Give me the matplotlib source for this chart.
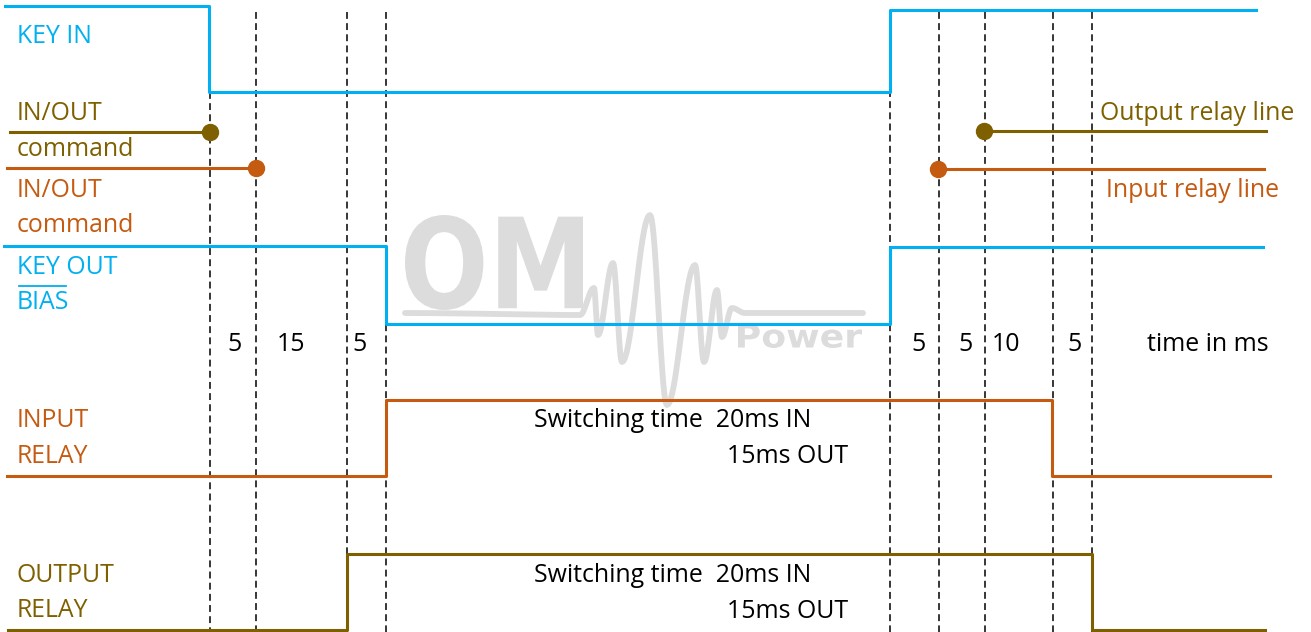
import numpy as np
import matplotlib
matplotlib.use("Agg")
import matplotlib.pyplot as plt
from matplotlib.font_manager import FontProperties
from matplotlib.textpath import TextPath
from matplotlib.patches import PathPatch
from matplotlib.transforms import Affine2D

# ---------------- data (diagram coordinates, x = time position, y = lane level) -------------
# dashed timing markers
event_x = [210, 256, 347, 386, 890, 939, 985, 1053, 1092]
event_top = [92, 12, 12, 12, 12, 12, 12, 12, 12]

# interval labels (ms) between markers
interval_labels = ["5", "15", "5", "5", "5", "10", "5"]
interval_x = [228, 278, 353, 912, 959, 993, 1068]

# step signals: transition x-positions and level y after each transition
key_in_x = [5, 209, 890, 1256]
key_in_y = [6, 92, 10, 10]

key_out_x = [4, 386, 890, 1263]
key_out_y = [246, 324, 247, 247]

input_relay_x = [7, 386, 1052, 1270]
input_relay_y = [476, 400, 476, 476]

output_relay_x = [8, 347, 1092, 1265]
output_relay_y = [630, 554, 630, 630]

# command lines with dot endpoints
cmd_out_left = (10, 210, 132)    # x0, x_dot, y
cmd_in_left = (7, 256, 168)
cmd_out_right = (984, 1266, 131)  # x_dot, x1, y
cmd_in_right = (938, 1264, 169)

BLUE = "#00B0F0"
OLIVE = "#7F6000"
ORANGE = "#C55A11"
GRAY = "#DCDCDC"

FONT = "Open Sans"
FS = 17.9

fig = plt.figure(figsize=(13.11, 6.32), dpi=100)
ax = fig.add_axes([0, 0, 1, 1])
ax.set_xlim(0, 1311)
ax.set_ylim(632, 0)
ax.axis("off")

# ---------------- watermark ----------------
wave_pts_x = [405, 580, 594, 598, 613, 622, 650, 667, 695, 704, 717, 722, 732, 745, 863]
wave_pts_y = [313, 315, 288, 335, 263, 362, 215, 405, 265, 362, 290, 337, 308, 313, 313]
wx, wy = [], []
for i in range(len(wave_pts_x) - 1):
    x0, x1 = wave_pts_x[i], wave_pts_x[i + 1]
    y0, y1 = wave_pts_y[i], wave_pts_y[i + 1]
    t = np.linspace(0, 1, 20)
    s = (1 - np.cos(np.pi * t)) / 2
    wx.extend(x0 + (x1 - x0) * t)
    wy.extend(y0 + (y1 - y0) * s)
ax.plot(wx, wy, color=GRAY, lw=4.2, solid_capstyle="round", zorder=0)


def fit_text(s, x0, x1, ytop, ybot):
    tp = TextPath((0, 0), s, size=100,
                  prop=FontProperties(family="DejaVu Sans", weight="bold"))
    bb = tp.get_extents()
    sx = (x1 - x0) / bb.width
    sy = (ybot - ytop) / bb.height
    tr = Affine2D().translate(-bb.x0, -bb.y0).scale(sx, -sy).translate(x0, ybot)
    ax.add_patch(PathPatch(tr.transform_path(tp), facecolor=GRAY, edgecolor="none", zorder=0))


fit_text("OM", 405, 583, 215, 310)
fit_text("Power", 738, 862, 324, 348)

# ---------------- dashed markers ----------------
for x, top in zip(event_x, event_top):
    ax.plot([x, x], [top, 632], color="black", lw=1.1, ls=(0, (4.5, 2.8)), zorder=1)

# ---------------- signals ----------------
def step(xs, ys, color):
    ax.plot(xs, ys, drawstyle="steps-post", color=color, lw=2.2, zorder=3)

step(key_in_x, key_in_y, BLUE)
step(key_out_x, key_out_y, BLUE)
step(input_relay_x, input_relay_y, ORANGE)
step(output_relay_x, output_relay_y, OLIVE)

# command lines
ax.plot([cmd_out_left[0], cmd_out_left[1]], [cmd_out_left[2]] * 2, color=OLIVE, lw=2.2, zorder=3)
ax.plot([cmd_out_left[1]], [cmd_out_left[2]], "o", color=OLIVE, ms=11.5, zorder=4)
ax.plot([cmd_in_left[0], cmd_in_left[1]], [cmd_in_left[2]] * 2, color=ORANGE, lw=2.2, zorder=3)
ax.plot([cmd_in_left[1]], [cmd_in_left[2]], "o", color=ORANGE, ms=11.5, zorder=4)
ax.plot([cmd_out_right[0], cmd_out_right[1]], [cmd_out_right[2]] * 2, color=OLIVE, lw=2.2, zorder=3)
ax.plot([cmd_out_right[0]], [cmd_out_right[2]], "o", color=OLIVE, ms=11.5, zorder=4)
ax.plot([cmd_in_right[0], cmd_in_right[1]], [cmd_in_right[2]] * 2, color=ORANGE, lw=2.2, zorder=3)
ax.plot([cmd_in_right[0]], [cmd_in_right[2]], "o", color=ORANGE, ms=11.5, zorder=4)

# ---------------- text ----------------
def txt(x, y, s, color="black"):
    ax.text(x, y, s, fontsize=FS, color=color, family=FONT, ha="left", va="baseline", zorder=5)

txt(17, 43, "KEY IN", BLUE)
txt(17, 120, "IN/OUT", OLIVE)
txt(17, 156, "command", OLIVE)
txt(17, 197, "IN/OUT", ORANGE)
txt(17, 232, "command", ORANGE)
txt(17, 274, "KEY OUT", BLUE)
txt(17, 309, "BIAS", BLUE)
ax.plot([19, 66], [286, 286], color=BLUE, lw=1.3, zorder=5)
txt(17, 427, "INPUT", ORANGE)
txt(17, 463, "RELAY", ORANGE)
txt(17, 582, "OUTPUT", OLIVE)
txt(17, 617, "RELAY", OLIVE)

txt(1100, 120, "Output relay line", OLIVE)
txt(1106, 197, "Input relay line", ORANGE)

for s, x in zip(interval_labels, interval_x):
    txt(x - 1, 351, s)
txt(1147, 351, "time in ms")

for base in (427, 582):
    txt(534, base, "Switching time  20ms IN")
    txt(727, base + 36, "15ms OUT")

fig.savefig("out.png", dpi=100)
